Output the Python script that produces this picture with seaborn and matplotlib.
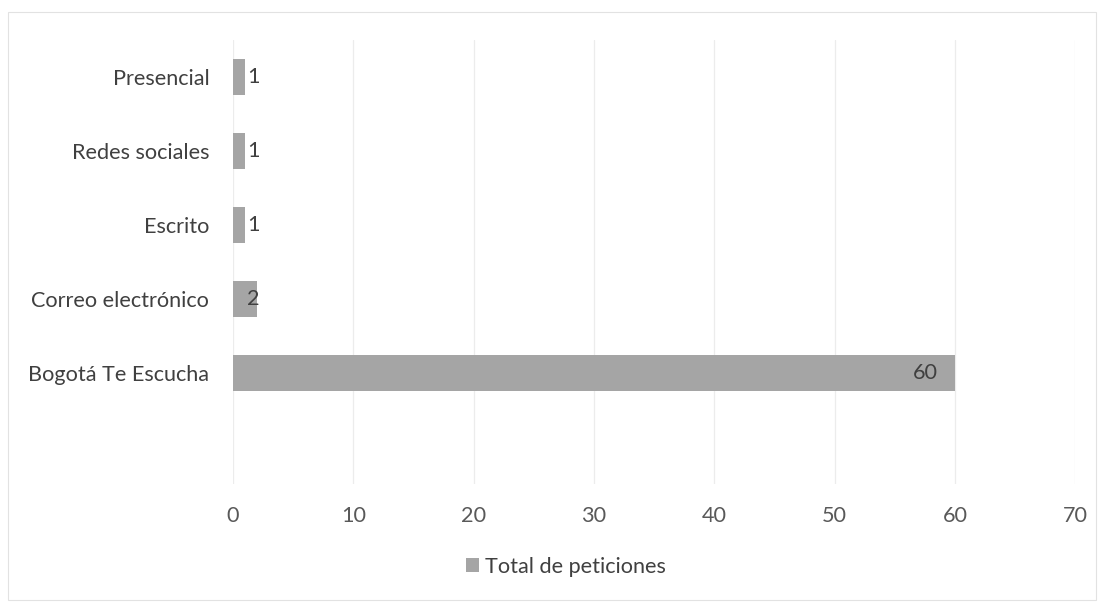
import matplotlib
matplotlib.use("Agg")
import matplotlib.pyplot as plt
import seaborn as sns
import pandas as pd
from matplotlib.patches import Rectangle

categories = ["Presencial", "Redes sociales", "Escrito", "Correo electrónico", "Bogotá Te Escucha"]
values = [1, 1, 1, 2, 60]
series_name = "Total de peticiones"
x_ticks = [0, 10, 20, 30, 40, 50, 60, 70]

sns.set_theme(style="white")
plt.rcParams["font.family"] = ["Lato", "DejaVu Sans"]

df = pd.DataFrame({"cat": categories, "val": values})

fig = plt.figure(figsize=(11.04, 6.09), dpi=100)
ax = fig.add_axes([0.211, 0.205, 0.763, 0.729])

bar_color = "#a5a5a5"
sns.barplot(data=df, x="val", y="cat", order=categories, color=bar_color,
            width=0.48, saturation=1, ax=ax, label=series_name, edgecolor="none")

fs = 15.6
ax.set_xlim(0, 70)
ax.set_ylim(len(categories) + 0.5, -0.5)
ax.set_xticks(x_ticks)
ax.set_xticklabels([str(t) for t in x_ticks], fontsize=fs, color="#595959")
ax.tick_params(axis="x", length=0, pad=16)
ax.tick_params(axis="y", length=0, pad=17, labelsize=fs, labelcolor="#404040")
ax.set_xlabel("")
ax.set_ylabel("")
ax.grid(axis="x", color="#ececec", linewidth=0.9)
ax.set_axisbelow(True)
for s in ax.spines.values():
    s.set_visible(False)

for i, v in enumerate(values):
    if v >= 5:
        ax.annotate(str(v), xy=(v, i), xytext=(-12, 0), textcoords="offset points",
                    ha="right", va="center", fontsize=fs, color="#404040")
    else:
        ax.annotate(str(v), xy=(0, i), xytext=(10, 0), textcoords="offset points",
                    ha="left", va="center", fontsize=fs, color="#404040")

leg = ax.legend(loc="center", bbox_to_anchor=(566 / 1104, 1 - 567 / 609),
                bbox_transform=fig.transFigure, frameon=False, fontsize=fs,
                handlelength=0.6, handleheight=0.6, handletextpad=0.3)
for t in leg.get_texts():
    t.set_color("#404040")

fig.patches.append(Rectangle((8 / 1104, 1 - 600 / 609), 1088 / 1104, 588 / 609,
                             transform=fig.transFigure, fill=False,
                             edgecolor="#e2e2e2", linewidth=0.8))

fig.savefig("out.png", dpi=100, facecolor="white")
